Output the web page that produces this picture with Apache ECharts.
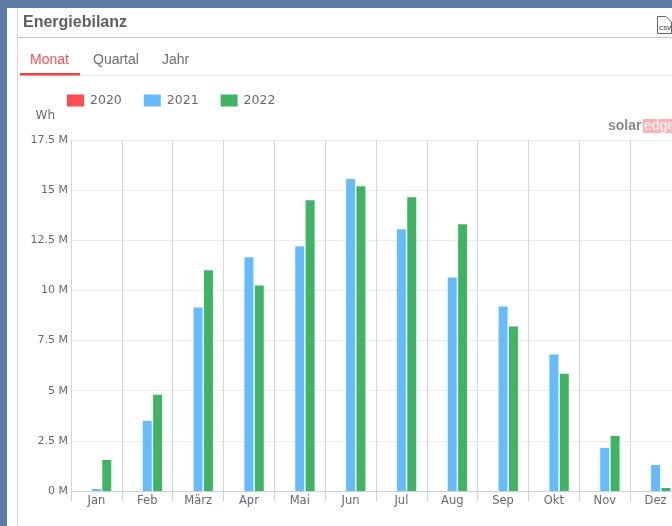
<!DOCTYPE html>
<html><head><meta charset="utf-8">
<script src="https://cdn.jsdelivr.net/npm/echarts@6/dist/echarts.min.js"></script>
<style>html,body{margin:0;padding:0;background:#5a7ca6;overflow:hidden;width:672px;height:526px}#c{width:700px;height:526px}</style>
</head><body><div id="c"></div>
<script>
const months = ['Jan','Feb','März','Apr','Mai','Jun','Jul','Aug','Sep','Okt','Nov','Dez'];
const values2020 = [null,null,null,null,null,null,null,null,null,null,null,null];
const values2021 = [0.1,3.5,9.15,11.65,12.2,15.55,13.05,10.65,9.2,6.8,2.15,1.3];
const values2022 = [1.55,4.8,11.0,10.25,14.5,15.2,14.65,13.3,8.2,5.85,2.75,0.15];
const seriesNames = ['2020','2021','2022'];
const seriesColors = ['#ff4d4f','#66bbff','#3fb463'];
const tabs = ['Monat','Quartal','Jahr'];
const labelFont = 'DejaVu Sans';
const txt = '#666a70';
const chart = echarts.init(document.getElementById('c'));
const label = (t,x,y,c,font)=>({type:'text',x:x,y:y,z:5,silent:true,style:{text:t,fill:c,font:font,verticalAlign:'middle'}});
chart.setOption({
  animation:false,
  backgroundColor:'#5a7ca6',
  textStyle:{fontFamily:labelFont},
  graphic:[
    {type:'rect',z:-10,silent:true,shape:{x:7,y:8,width:693,height:518},style:{fill:'#fff'}},
    {type:'rect',z:-9,silent:true,shape:{x:17,y:8,width:1,height:518},style:{fill:'#d4d4d4'}},
    {type:'rect',z:-9,silent:true,shape:{x:18,y:37,width:682,height:1},style:{fill:'#c8c8c8'}},
    {type:'rect',z:-9,silent:true,shape:{x:18,y:75,width:682,height:1},style:{fill:'#e4e4e4'}},
    {type:'rect',z:-8,silent:true,shape:{x:20,y:73,width:60,height:2.5},style:{fill:'#ff4040'}},
    label('Energiebilanz',23,23,'#5f5f5f','bold 16px "Liberation Sans"'),
    label(tabs[0],30,60,'#ff4d4f','14px "Liberation Sans"'),
    label(tabs[1],93,60,'#6c6f75','14px "Liberation Sans"'),
    label(tabs[2],162,60,'#6c6f75','14px "Liberation Sans"'),
    {type:'rect',z:3,silent:true,shape:{x:643,y:119,width:40,height:14},style:{fill:'#ffb0b0'}},
    label('solar',608,126,'#8a8a8a','bold 14px "Liberation Sans"'),
    label('edge',644,126,'#ffffff','14px "Liberation Sans"'),
    {type:'polygon',z:4,silent:true,shape:{points:[[657.5,16.5],[666,16.5],[671.5,22],[671.5,33.5],[657.5,33.5]]},style:{fill:'#fff',stroke:'#666',lineWidth:1}},
    label('CSV',659,28,'#555','bold 6px "Liberation Sans"')
  ],
  legend:{left:67,top:94,padding:0,itemWidth:17,itemHeight:12,itemGap:22,selectedMode:false,icon:'rect',
    textStyle:{color:txt,fontSize:12.5,fontFamily:labelFont,padding:[0,0,0,1]},
    data:seriesNames},
  grid:{left:71,top:140,width:610,height:351,outerBoundsMode:'none'},
  xAxis:{type:'category',data:months,
    axisLine:{lineStyle:{color:'#c6d2de',width:1}},
    axisTick:{show:true,length:10,lineStyle:{color:'#c6d2de'}},
    axisLabel:{color:txt,fontSize:11.5,margin:4,interval:0,fontFamily:labelFont},
    splitLine:{show:true,interval:0,lineStyle:{color:'#d3d6da',width:1}}},
  yAxis:{type:'value',min:0,max:17.5,interval:2.5,
    name:'Wh',nameLocation:'end',nameGap:18,
    nameTextStyle:{color:txt,fontSize:12,fontFamily:labelFont,align:'right',padding:[0,16,0,0]},
    axisLine:{show:true,lineStyle:{color:'#d3d6da'}},
    axisTick:{show:false},
    axisLabel:{color:txt,fontSize:11,margin:3,fontFamily:labelFont,formatter:v=>String(v)+' M'},
    splitLine:{show:true,lineStyle:{color:'#e6edf4',width:1}}},
  series:[
    {name:seriesNames[0],type:'bar',data:values2020,barWidth:9,barGap:'15%',itemStyle:{color:seriesColors[0]}},
    {name:seriesNames[1],type:'bar',data:values2021,barWidth:9,barGap:'15%',itemStyle:{color:seriesColors[1]}},
    {name:seriesNames[2],type:'bar',data:values2022,barWidth:9,barGap:'15%',itemStyle:{color:seriesColors[2]}}
  ]
});
</script></body></html>
